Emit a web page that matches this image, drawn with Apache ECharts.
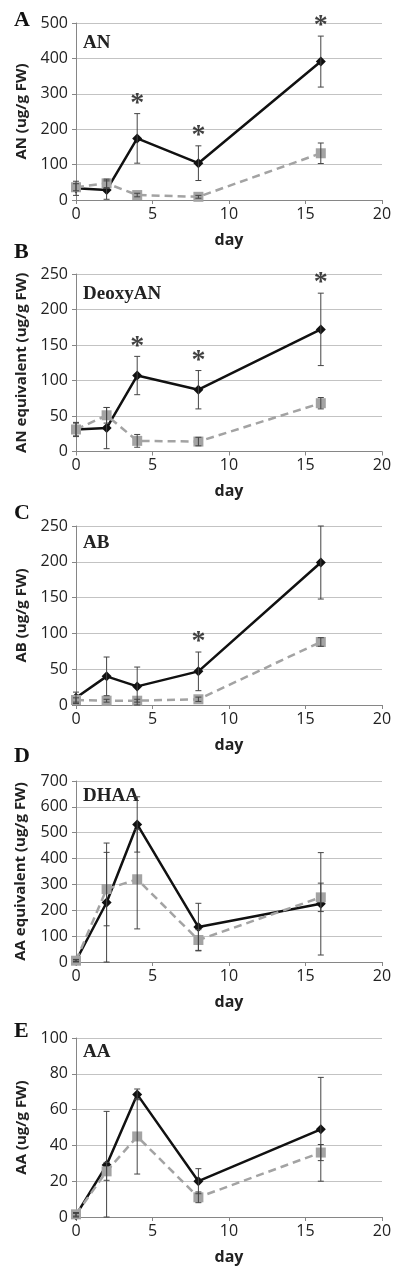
<!DOCTYPE html>
<html>
<head>
<meta charset="utf-8">
<script src="https://cdn.jsdelivr.net/npm/echarts@6/dist/echarts.min.js"></script>
<style>html,body{margin:0;padding:0;background:#fff;}#c{width:400px;height:1277px;}</style>
</head>
<body>
<div id="c"></div>
<script>
// ---- data ----
const days = [0, 2, 4, 8, 16];
const xTicks = [0, 5, 10, 15, 20];

const anBlack = [33, 28, 174, 104, 391];
const anBlackErr = [20, 26, 70, 49, 72];
const anGray = [36, 47, 14, 9, 132];
const anGrayErr = [10, 12, 5, 4, 29];
const anStars = [4, 8, 16];

const deoxyBlack = [31, 33, 107, 87, 172];
const deoxyBlackErr = [10, 29, 27, 27, 51];
const deoxyGray = [31, 51, 15, 14, 68];
const deoxyGrayErr = [9, 11, 9, 6, 8];
const deoxyStars = [4, 8, 16];

const abBlack = [10, 40, 26, 47, 199];
const abBlackErr = [8, 27, 27, 27, 51];
const abGray = [7, 6, 6, 8, 88];
const abGrayErr = [3, 2, 2, 3, 6];
const abStars = [8];

const dhaaBlack = [5, 230, 532, 135, 225];
const dhaaBlackErr = [5, 230, 107, 92, 198];
const dhaaGray = [5, 282, 320, 85, 250];
const dhaaGrayErr = [3, 142, 192, 40, 55];
const dhaaStars = [];

const aaBlack = [1, 29, 68.5, 20, 49];
const aaBlackErr = [1, 30, 3, 7, 29];
const aaGray = [1.5, 25.5, 45, 11, 36];
const aaGrayErr = [1, 5, 21, 3, 4.5];
const aaStars = [];

const panels = [
  {letter:'A', label:'AN', yName:'AN (ug/g FW)', max:500, interval:100,
   black:anBlack, blackErr:anBlackErr, gray:anGray, grayErr:anGrayErr, stars:anStars},
  {letter:'B', label:'DeoxyAN', yName:'AN equivalent (ug/g FW)', max:250, interval:50,
   black:deoxyBlack, blackErr:deoxyBlackErr, gray:deoxyGray, grayErr:deoxyGrayErr, stars:deoxyStars},
  {letter:'C', label:'AB', yName:'AB (ug/g FW)', max:250, interval:50,
   black:abBlack, blackErr:abBlackErr, gray:abGray, grayErr:abGrayErr, stars:abStars},
  {letter:'D', label:'DHAA', yName:'AA equivalent (ug/g FW)', max:700, interval:100,
   black:dhaaBlack, blackErr:dhaaBlackErr, gray:dhaaGray, grayErr:dhaaGrayErr, stars:dhaaStars},
  {letter:'E', label:'AA', yName:'AA (ug/g FW)', max:100, interval:20,
   black:aaBlack, blackErr:aaBlackErr, gray:aaGray, grayErr:aaGrayErr, stars:aaStars}
];

// ---- layout ----
const layout = [
  {top:23, height:177, nameGap:42, letterY:20, labelY:43.5},
  {top:274, height:177.5, nameGap:47, letterY:252, labelY:295},
  {top:526, height:179, nameGap:42, letterY:513.5, labelY:544},
  {top:781, height:181, nameGap:48, letterY:756, labelY:797},
  {top:1038, height:179, nameGap:42, letterY:1031, labelY:1053}
];

const SANS = '"Open Sans", "Noto Sans", sans-serif';
const SERIF = '"Liberation Serif", "DejaVu Serif", serif';
const AXIS_COL = '#868686';

function errRender(params, api) {
  const x = api.value(0), y = api.value(1), e = api.value(2);
  const hi = api.coord([x, y + e]);
  const lo = api.coord([x, Math.max(y - e, 0)]);
  const c = 3;
  const st = {stroke:'#444', lineWidth:1};
  return {type:'group', children:[
    {type:'line', shape:{x1:hi[0], y1:hi[1], x2:lo[0], y2:lo[1]}, style:st},
    {type:'line', shape:{x1:hi[0]-c, y1:hi[1], x2:hi[0]+c, y2:hi[1]}, style:st},
    {type:'line', shape:{x1:lo[0]-c, y1:lo[1], x2:lo[0]+c, y2:lo[1]}, style:st}
  ]};
}

const grid = [], xAxis = [], yAxis = [], series = [], graphic = [];
panels.forEach((p, i) => {
  const L = layout[i];
  grid.push({left:76, right:18, top:L.top, height:L.height});
  xAxis.push({
    type:'value', gridIndex:i, min:0, max:20, interval:5,
    name:'day', nameLocation:'middle', nameGap:32,
    nameTextStyle:{fontFamily:SANS, fontWeight:'bold', fontSize:16, color:'#222'},
    axisLine:{show:true, lineStyle:{color:AXIS_COL, width:1}},
    axisTick:{show:true, length:4, lineStyle:{color:AXIS_COL}},
    splitLine:{show:false},
    axisLabel:{fontFamily:SANS, fontSize:16, color:'#222', margin:6,
      formatter: v => xTicks.includes(v) ? String(v) : ''}
  });
  yAxis.push({
    type:'value', gridIndex:i, min:0, max:p.max, interval:p.interval,
    name:p.yName, nameLocation:'middle', nameGap:L.nameGap, nameRotate:90,
    nameTextStyle:{fontFamily:SANS, fontWeight:'bold', fontSize:15, color:'#222'},
    axisLine:{show:true, lineStyle:{color:AXIS_COL, width:1}},
    axisTick:{show:true, length:4, lineStyle:{color:AXIS_COL}},
    splitLine:{show:true, lineStyle:{color:'#c3c3c3', width:1}},
    axisLabel:{fontFamily:SANS, fontSize:16, color:'#222', margin:8}
  });
  series.push({
    type:'line', xAxisIndex:i, yAxisIndex:i, z:2,
    data: days.map((d, k) => [d, p.black[k]]),
    symbol:'diamond', symbolSize:10,
    lineStyle:{color:'#111', width:2.5},
    itemStyle:{color:'#111'}, animation:false, silent:true
  });
  series.push({
    type:'line', xAxisIndex:i, yAxisIndex:i, z:3,
    data: days.map((d, k) => [d, p.gray[k]]),
    symbol:'rect', symbolSize:10,
    lineStyle:{color:'#a3a3a3', width:2.5, type:[8,5]},
    itemStyle:{color:'#a3a3a3'}, animation:false, silent:true
  });
  series.push({
    type:'custom', xAxisIndex:i, yAxisIndex:i, z:4, renderItem:errRender,
    encode:{x:0, y:1},
    data: days.map((d, k) => [d, p.black[k], p.blackErr[k]])
      .concat(days.map((d, k) => [d, p.gray[k], p.grayErr[k]])),
    animation:false, silent:true
  });
  series.push({
    type:'scatter', xAxisIndex:i, yAxisIndex:i, z:5, symbolSize:0,
    data: p.stars.map(d => { const k = days.indexOf(d); return [d, p.black[k] + p.blackErr[k]]; }),
    label:{show:true, position:'top', distance:-4, formatter:'*',
      fontFamily:SERIF, fontWeight:'bold', fontSize:28, color:'#111'},
    animation:false, silent:true
  });
  graphic.push({type:'text', left:14, top:L.letterY - 11,
    style:{text:p.letter, font:'bold 22px ' + SERIF, fill:'#111'}});
  graphic.push({type:'text', left:83, top:L.labelY - 10,
    style:{text:p.label, font:'bold 19px ' + SERIF, fill:'#222'}});
});

const chart = echarts.init(document.getElementById('c'), null, {renderer:'canvas'});
chart.setOption({animation:false, backgroundColor:'#fff', grid, xAxis, yAxis, series, graphic});
</script>
</body>
</html>
